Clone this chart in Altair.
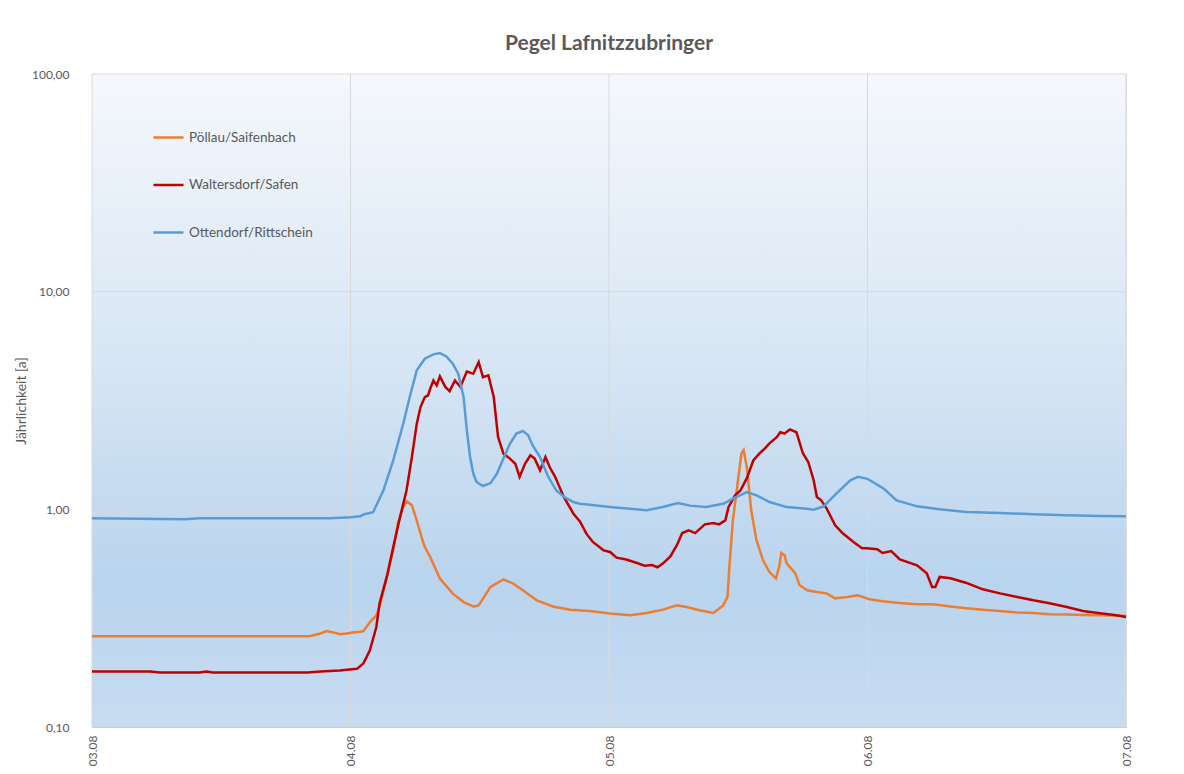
import altair as alt
import pandas as pd

# ---- data (hours after 03.08 00:00, Jährlichkeit in years) ----
series_names = ["Pöllau/Saifenbach", "Waltersdorf/Safen", "Ottendorf/Rittschein"]
series_colors = ["#ed7d31", "#c00000", "#5b9bd5"]

poellau_h = [0, 20.2, 21.2, 21.8, 22.4, 23.0, 23.6, 24.2, 24.9, 25.2, 25.8, 26.4, 26.7, 27.2, 27.7, 27.97,
             28.4, 28.9, 29.2, 29.7, 30.15, 30.6, 30.9, 31.4, 32.3, 33.5, 34.5, 35.4, 35.9, 37.0, 38.2,
             39.1, 40.0, 41.3, 42.8, 44.4, 46.2, 48.1, 50.0, 51.5, 53.0, 54.3, 55.2, 56.4, 57.7, 58.6,
             59.0, 59.2, 59.5, 59.9, 60.3, 60.5, 60.8, 61.2, 61.7, 62.3, 62.9, 63.5, 63.8, 64.0, 64.3,
             64.5, 65.3, 65.7, 66.4, 67.3, 68.2, 69.0, 70.1, 71.1, 72.2, 73.4, 75.0, 76.6, 78.1, 79.7,
             81.2, 82.7, 84.3, 85.9, 87.4, 88.9, 90.5, 92.0, 93.6, 96.0]
poellau_v = [0.261, 0.261, 0.269, 0.276, 0.272, 0.267, 0.269, 0.272, 0.274, 0.276, 0.303, 0.326, 0.356,
             0.448, 0.571, 0.648, 0.86, 1.025, 1.09, 1.043, 0.89, 0.746, 0.671, 0.604, 0.481, 0.410,
             0.375, 0.358, 0.362, 0.440, 0.476, 0.456, 0.425, 0.382, 0.358, 0.346, 0.341, 0.332, 0.326,
             0.334, 0.346, 0.362, 0.356, 0.344, 0.334, 0.362, 0.396, 0.563, 0.89, 1.27, 1.81, 1.87,
             1.56, 0.99, 0.72, 0.583, 0.515, 0.482, 0.543, 0.630, 0.615, 0.565, 0.508, 0.448, 0.425,
             0.417, 0.411, 0.390, 0.396, 0.403, 0.386, 0.378, 0.371, 0.366, 0.366, 0.358, 0.351, 0.346,
             0.341, 0.336, 0.334, 0.330, 0.329, 0.327, 0.326, 0.324]

walters_h = [0, 5.4, 6.3, 10.0, 10.6, 11.2, 20.0, 21.2, 23.0, 24.6, 25.2, 25.8, 26.4, 26.7, 27.4, 27.97,
             28.6, 29.2, 29.7, 30.15, 30.5, 30.9, 31.2, 31.4, 31.7, 32.0, 32.3, 32.8, 33.2, 33.7, 34.2,
             34.8, 35.4, 35.9, 36.3, 36.8, 37.3, 37.7, 38.2, 38.8, 39.3, 39.7, 40.2, 40.7, 41.1, 41.6,
             42.1, 42.5, 43.0, 43.8, 44.7, 45.3, 45.9, 46.5, 47.5, 48.1, 48.7, 49.6, 50.6, 51.3, 52.0,
             52.5, 53.0, 53.7, 54.3, 54.8, 55.4, 56.0, 56.9, 57.7, 58.2, 58.8, 59.1, 59.7, 60.2, 60.8,
             61.4, 62.0, 62.5, 62.9, 63.6, 63.9, 64.3, 64.8, 65.4, 66.0, 66.5, 67.0, 67.3, 67.7, 68.2,
             69.0, 69.7, 70.7, 71.5, 71.9, 72.9, 73.4, 74.2, 75.0, 76.6, 77.5, 78.0, 78.3, 78.7, 79.7,
             81.2, 82.7, 84.3, 85.9, 87.4, 88.9, 90.5, 92.0, 93.6, 95.1, 96.0]
walters_v = [0.180, 0.180, 0.178, 0.178, 0.180, 0.178, 0.178, 0.180, 0.182, 0.185, 0.196, 0.225, 0.288,
             0.370, 0.497, 0.671, 0.922, 1.22, 1.74, 2.47, 2.95, 3.28, 3.34, 3.58, 3.91, 3.71, 4.08,
             3.65, 3.49, 3.91, 3.65, 4.30, 4.20, 4.75, 4.05, 4.13, 3.28, 2.15, 1.80, 1.71, 1.62, 1.41,
             1.62, 1.77, 1.71, 1.51, 1.74, 1.56, 1.41, 1.14, 0.955, 0.88, 0.773, 0.708, 0.648, 0.637,
             0.600, 0.588, 0.567, 0.551, 0.555, 0.542, 0.563, 0.608, 0.684, 0.778, 0.80, 0.778, 0.853,
             0.865, 0.853, 0.89, 1.025, 1.16, 1.22, 1.39, 1.68, 1.81, 1.91, 2.01, 2.15, 2.26, 2.23,
             2.33, 2.26, 1.81, 1.65, 1.36, 1.14, 1.10, 1.01, 0.845, 0.776, 0.708, 0.662, 0.662, 0.655,
             0.630, 0.643, 0.589, 0.553, 0.508, 0.440, 0.440, 0.489, 0.482, 0.459, 0.429, 0.411, 0.396,
             0.382, 0.370, 0.356, 0.341, 0.333, 0.326, 0.320]

otten_h = [0, 8.6, 10.0, 22.1, 24.0, 24.9, 25.3, 26.1, 27.05, 27.97, 28.9, 29.5, 30.15, 30.9, 31.7,
           32.3, 32.9, 33.5, 34.0, 34.5, 34.8, 35.1, 35.4, 35.7, 36.3, 37.0, 37.6, 38.2, 38.8, 39.4,
           40.0, 40.5, 40.9, 41.6, 42.3, 43.1, 43.9, 44.7, 45.3, 46.2, 48.1, 51.5, 53.0, 54.4, 55.5,
           57.0, 58.6, 59.5, 60.8, 61.7, 62.9, 64.5, 66.4, 67.0, 67.9, 69.1, 70.4, 71.1, 72.0, 72.5,
           73.5, 74.7, 76.6, 78.7, 81.2, 84.3, 87.4, 90.5, 93.6, 96.0]
otten_v = [0.91, 0.90, 0.91, 0.91, 0.92, 0.93, 0.95, 0.97, 1.22, 1.68, 2.48, 3.28, 4.35, 4.92, 5.15,
           5.22, 5.04, 4.67, 4.20, 3.28, 2.31, 1.74, 1.46, 1.335, 1.28, 1.32, 1.46, 1.71, 2.00, 2.23,
           2.29, 2.19, 1.97, 1.74, 1.43, 1.22, 1.135, 1.08, 1.06, 1.05, 1.025, 0.99, 1.025, 1.07, 1.04,
           1.025, 1.06, 1.12, 1.20, 1.16, 1.08, 1.024, 1.007, 0.997, 1.03, 1.18, 1.36, 1.41, 1.38,
           1.335, 1.245, 1.10, 1.032, 1.0, 0.972, 0.962, 0.949, 0.939, 0.932, 0.929]

y_ticks = [0.1, 1, 10, 100]
day_ticks = [3, 4, 5, 6, 7]

# ---- tables ----
base = pd.Timestamp("2023-08-03 00:00")
frames = []
for name, hs, vs in [(series_names[0], poellau_h, poellau_v),
                     (series_names[1], walters_h, walters_v),
                     (series_names[2], otten_h, otten_v)]:
    frames.append(pd.DataFrame({"t": [base + pd.Timedelta(hours=h) for h in hs], "v": vs, "s": name}))
df = pd.concat(frames, ignore_index=True)

grid_y = pd.DataFrame({"v": y_ticks})
grid_x = pd.DataFrame({"t": [pd.Timestamp(2023, 8, d) for d in day_ticks]})

W, H = 1034, 653
FONT = "Lato"
GREY = "#595959"

x_scale = alt.Scale(domain=[alt.DateTime(year=2023, month=8, date=3), alt.DateTime(year=2023, month=8, date=7)])
y_scale = alt.Scale(type="log", domain=[0.1, 100])

x_enc = alt.X("t:T", scale=x_scale,
              axis=alt.Axis(title=None, format="%d.%m",
                            values=[alt.DateTime(year=2023, month=8, date=d) for d in day_ticks],
                            labelAngle=270, labelFontSize=12, labelColor=GREY, labelFont=FONT,
                            ticks=False, labelPadding=8, grid=False, domainColor="#bfbfbf",
                            labelFlush=False, labelOverlap=False))
y_enc = alt.Y("v:Q", scale=y_scale,
              axis=alt.Axis(title="Jährlichkeit [a]", values=y_ticks,
                            labelExpr="replace(format(datum.value, '.2f'), '.', ',')",
                            labelFontSize=12, labelColor=GREY, labelFont=FONT, ticks=False,
                            labelPadding=23, grid=False, domainColor="#bfbfbf",
                            titleFont=FONT, titleFontSize=14, titleColor=GREY, titleFontWeight="normal",
                            titlePadding=3, labelFlush=False, labelOverlap=False))

bg = alt.Chart(pd.DataFrame({"a": [0]})).mark_rect(
    color=alt.Gradient(gradient="linear", x1=0, y1=0, x2=0, y2=1,
                       stops=[alt.GradientStop(color="#f5f8fc", offset=0),
                              alt.GradientStop(color="#d6e5f4", offset=0.45),
                              alt.GradientStop(color="#b9d4ee", offset=0.78),
                              alt.GradientStop(color="#c8dcf1", offset=1)])
).encode(x=alt.value(0), x2=alt.value(W), y=alt.value(0), y2=alt.value(H))

hgrid = alt.Chart(grid_y).mark_rule(color="#d9d9d9", strokeWidth=1).encode(y=alt.Y("v:Q", scale=y_scale))
vgrid = alt.Chart(grid_x).mark_rule(color="#d9d9d9", strokeWidth=1).encode(x=alt.X("t:T", scale=x_scale))

lines = alt.Chart(df).mark_line(strokeWidth=2.5).encode(
    x=x_enc, y=y_enc,
    color=alt.Color("s:N", scale=alt.Scale(domain=series_names, range=series_colors),
                    legend=alt.Legend(title=None, orient="none", legendX=60, legendY=47,
                                      symbolType="stroke", symbolSize=900, symbolStrokeWidth=2.5,
                                      labelFont=FONT, labelFontSize=13.5, labelColor=GREY,
                                      rowPadding=24.5, labelOffset=4)),
    order=alt.Order("t:T"),
)

chart = alt.layer(bg, hgrid, vgrid, lines).properties(
    width=W, height=H,
    title=alt.TitleParams("Pegel Lafnitzzubringer", font=FONT, fontSize=21, fontWeight="bold",
                          color=GREY, anchor="middle", offset=14, frame="group"),
    autosize=alt.AutoSizeParams(type="none"),
    padding={"left": 84, "top": 66, "right": 50, "bottom": 39},
).configure_view(stroke="#d9d9d9").configure(background="white")

chart.save("out.html", embed_options={"renderer": "svg", "actions": False})
